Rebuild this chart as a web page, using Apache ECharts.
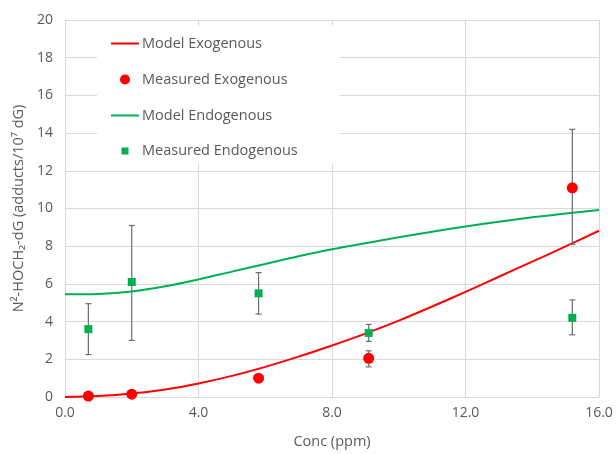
<!DOCTYPE html>
<html><head><meta charset="utf-8">
<script src="https://cdn.jsdelivr.net/npm/echarts@6/dist/echarts.min.js"></script>
<style>html,body{margin:0;padding:0;background:#fff}#c{width:616px;height:454px}</style>
</head><body><div id="c"></div>
<script>
// Data
const modelX = [0,1,2,3,4,5,6,7,8,9,10,11,12,13,14,15,16];
const modelExo = [0,0.05,0.18,0.4,0.72,1.12,1.6,2.14,2.73,3.36,4.05,4.8,5.58,6.38,7.18,7.99,8.82];
const modelEndo = [5.45,5.47,5.6,5.87,6.24,6.65,7.06,7.47,7.84,8.16,8.47,8.77,9.05,9.3,9.53,9.73,9.92];
const measX = [0.7,2.0,5.8,9.1,15.2];
const measExo = [0.05,0.15,1.0,2.05,11.1];
const measExoLow = [null,null,null,1.6,8.1];
const measExoHigh = [null,null,null,2.45,14.2];
const measEndo = [3.6,6.1,5.5,3.4,4.2];
const measEndoLow = [2.25,3.0,4.4,2.95,3.3];
const measEndoHigh = [4.95,9.1,6.6,3.85,5.15];
const xTicks = [0,4,8,12,16];

const FONT = '"Open Sans", "Liberation Sans", sans-serif';
const TXT = '#595959';
const RED = '#ff0000', GREEN = '#00b050';

function errData(xs, lo, hi){
  const out=[];
  xs.forEach((x,i)=>{ if(lo[i]!=null) out.push([x,lo[i],hi[i]]); });
  return out;
}
const errRender = function(params, api){
  const x = api.value(0);
  const p1 = api.coord([x, api.value(1)]);
  const p2 = api.coord([x, api.value(2)]);
  const w = 3;
  const st = {stroke:'#6d6d6d', lineWidth:1.2};
  return {type:'group', children:[
    {type:'line', shape:{x1:p1[0],y1:p1[1],x2:p2[0],y2:p2[1]}, style:st},
    {type:'line', shape:{x1:p1[0]-w,y1:p1[1],x2:p1[0]+w,y2:p1[1]}, style:st},
    {type:'line', shape:{x1:p2[0]-w,y1:p2[1],x2:p2[0]+w,y2:p2[1]}, style:st}
  ]};
};

const chart = echarts.init(document.getElementById('c'), null, {renderer:'canvas'});
function legendItem(name, icon, left, top, w, h, padLeft){
  return {orient:'vertical', left:left, top:top, itemWidth:w, itemHeight:h,
    data:[{name:name, icon:icon}],
    textStyle:{color:TXT, fontSize:14.5, fontFamily:FONT, padding:[0,0,0,padLeft]},
    itemGap:0, padding:0, selectedMode:false};
}
const LINE_ICON = 'path://M0,0h28v2h-28z';
chart.setOption({
  animation:false,
  backgroundColor:'#fff',
  grid:{left:65, right:17, top:20, bottom:55},
  graphic:[{type:'rect', left:97, top:26, shape:{width:243,height:138}, style:{fill:'#fff'}, z:1, silent:true}],
  legend:[
    legendItem('Model Exogenous', LINE_ICON, 111, 36, 28, 2, -2),
    legendItem('Measured Exogenous', 'circle', 120, 72, 10, 10, 7),
    legendItem('Model Endogenous', LINE_ICON, 111, 108, 28, 2, -2),
    legendItem('Measured Endogenous', 'rect', 121.5, 143.5, 7, 7, 8.5)
  ],
  xAxis:{type:'value', min:0, max:16, interval:4,
    name:'Conc (ppm)', nameLocation:'middle', nameGap:37,
    nameTextStyle:{color:TXT, fontSize:14.5, fontFamily:FONT},
    axisLine:{show:true, lineStyle:{color:'#d9d9d9'}}, axisTick:{show:false},
    axisLabel:{color:TXT, fontSize:14, fontFamily:FONT, margin:9, formatter:v=>v.toFixed(1)},
    splitLine:{show:true, lineStyle:{color:'#d9d9d9'}}},
  yAxis:{type:'value', min:0, max:20, interval:2,
    name:'N²-HOCH₂-dG (adducts/10⁷ dG)', nameLocation:'middle', nameGap:35, nameRotate:90,
    nameTextStyle:{color:TXT, fontSize:14.5, fontFamily:FONT},
    axisLine:{show:true, lineStyle:{color:'#d9d9d9'}}, axisTick:{show:false},
    axisLabel:{color:TXT, fontSize:14, fontFamily:FONT, margin:12},
    splitLine:{show:true, lineStyle:{color:'#d9d9d9'}}},
  series:[
    {name:'Model Exogenous', type:'line', smooth:0.3, showSymbol:false, symbol:'none',
      data:modelX.map((x,i)=>[x,modelExo[i]]), lineStyle:{color:RED,width:2}, itemStyle:{color:RED}, z:3},
    {name:'Model Endogenous', type:'line', smooth:0.3, showSymbol:false, symbol:'none',
      data:modelX.map((x,i)=>[x,modelEndo[i]]), lineStyle:{color:GREEN,width:2}, itemStyle:{color:GREEN}, z:3},
    {name:'errExo', type:'custom', renderItem:errRender, data:errData(measX,measExoLow,measExoHigh), z:4},
    {name:'errEndo', type:'custom', renderItem:errRender, data:errData(measX,measEndoLow,measEndoHigh), z:4},
    {name:'Measured Exogenous', type:'scatter', symbol:'circle', symbolSize:11,
      data:measX.map((x,i)=>[x,measExo[i]]), itemStyle:{color:RED, opacity:1}, z:5},
    {name:'Measured Endogenous', type:'scatter', symbol:'rect', symbolSize:8,
      data:measX.map((x,i)=>[x,measEndo[i]]), itemStyle:{color:GREEN, opacity:1}, z:5}
  ]
});
</script></body></html>
